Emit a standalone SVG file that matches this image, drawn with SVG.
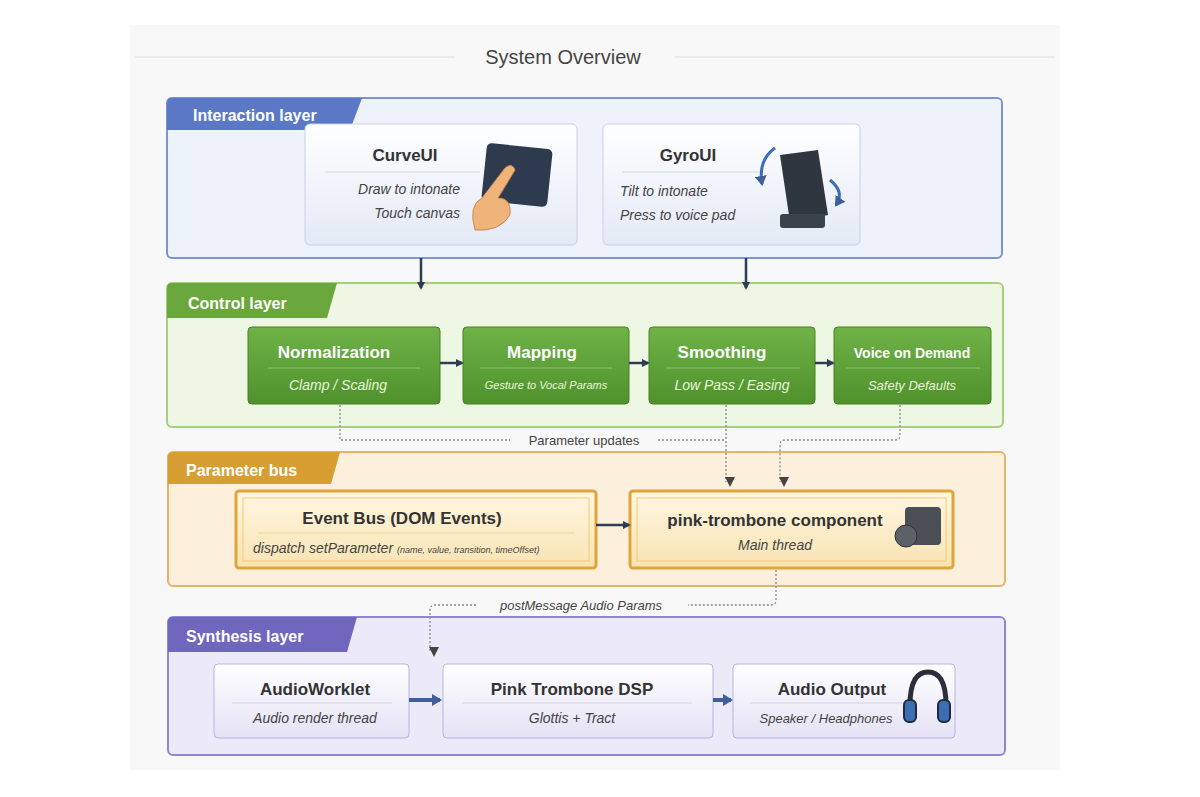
<svg xmlns="http://www.w3.org/2000/svg" width="1200" height="797" viewBox="0 0 1200 797">
<defs>
<style>
.t{font-family:"Liberation Sans",Arial,sans-serif}
.h{font-size:17px;font-weight:bold;fill:#333}
.s{font-size:14px;font-style:italic;fill:#444}
.tab{font-size:16px;font-weight:bold;fill:#fff}
.wh{fill:#fff}
.dash{fill:none;stroke:#888;stroke-width:1.3;stroke-dasharray:2 2}
.arr{stroke:#2f3c55;stroke-width:2.5;fill:none}
</style>
<marker id="a" markerWidth="8" markerHeight="8" refX="6" refY="4" orient="auto" markerUnits="userSpaceOnUse"><path d="M0,0 L8,4 L0,8z" fill="#2f3c55"/></marker>
<marker id="ab" markerWidth="10" markerHeight="12" refX="8" refY="6" orient="auto" markerUnits="userSpaceOnUse"><path d="M0,0 L10,6 L0,12z" fill="#3f5f9a"/></marker>
<marker id="ad" markerWidth="10" markerHeight="10" refX="5" refY="9" orient="auto" markerUnits="userSpaceOnUse"><path d="M0,0 L10,0 L5,10z" transform="rotate(-90 5 5)" fill="#444"/></marker>
<linearGradient id="gg" x1="0" y1="0" x2="0" y2="1"><stop offset="0" stop-color="#6fb247"/><stop offset="1" stop-color="#4f922c"/></linearGradient>
<linearGradient id="gb" x1="0" y1="0" x2="0" y2="1"><stop offset="0" stop-color="#ffffff"/><stop offset="1" stop-color="#e3e9f6"/></linearGradient>
<linearGradient id="gp" x1="0" y1="0" x2="0" y2="1"><stop offset="0" stop-color="#ffffff"/><stop offset="1" stop-color="#e4e2f5"/></linearGradient>
<linearGradient id="go" x1="0" y1="0" x2="0" y2="1"><stop offset="0" stop-color="#fff7e2"/><stop offset="1" stop-color="#f8e3b2"/></linearGradient>
</defs>
<rect width="1200" height="797" fill="#fff"/>
<rect x="130" y="25" width="930" height="745" fill="#f8f8f8"/>
<line x1="135" y1="57" x2="455" y2="57" stroke="#ddd"/>
<line x1="675" y1="57" x2="1055" y2="57" stroke="#ddd"/>
<text class="t" x="563" y="64" text-anchor="middle" font-size="20" fill="#444">System Overview</text>

<g id="interaction-layer">
<rect x="167" y="98" width="835" height="160" rx="5" fill="#eef2fb" stroke="#7d93d2" stroke-width="2"/>
<path d="M167,103 Q167,98 172,98 L362,98 L350,130 L167,130z" fill="#5b78c6"/>
<text class="t tab" x="193" y="121" font-size="15">Interaction layer</text>
</g>
<g id="curveui">
<rect x="305" y="124" width="272" height="121" rx="5" fill="url(#gb)" stroke="#c8d0e4"/>
<text class="t h" x="405" y="161" text-anchor="middle" font-size="19">CurveUI</text>
<line x1="325" y1="172" x2="480" y2="172" stroke="#d0d6e4"/>
<text class="t s" x="460" y="194" text-anchor="end">Draw to intonate</text>
<text class="t s" x="460" y="218" text-anchor="end">Touch canvas</text>
<rect x="484" y="146" width="66" height="58" rx="5" fill="#2e3a4e" transform="rotate(6 517 175)"/>
<path d="M475,230 Q468,205 482,198 L505,168 Q512,162 515,170 L498,198 Q512,198 510,215 Q500,232 475,230z" fill="#f0b37a" stroke="#c98a52"/>
</g>
<g id="gyroui">
<rect x="603" y="124" width="257" height="121" rx="5" fill="url(#gb)" stroke="#c8d0e4"/>
<text class="t h" x="688" y="161" text-anchor="middle" font-size="19">GyroUI</text>
<line x1="622" y1="172" x2="760" y2="172" stroke="#d0d6e4"/>
<text class="t s" x="620" y="196">Tilt to intonate</text>
<text class="t s" x="620" y="220">Press to voice pad</text>
<path d="M780,155 L818,150 L828,215 L790,222z" fill="#2e3640"/>
<rect x="780" y="214" width="45" height="14" rx="3" fill="#3a424c"/>
<path d="M775,148 Q758,160 762,184" fill="none" stroke="#3b6fb8" stroke-width="3" marker-end="url(#ab)"/>
<path d="M830,180 Q845,192 836,205" fill="none" stroke="#3b6fb8" stroke-width="3" marker-end="url(#ab)"/>
</g>

<g id="control-layer">
<rect x="167" y="283" width="836" height="144" rx="5" fill="#eef7e4" stroke="#a6d07e" stroke-width="2"/>
<path d="M167,288 Q167,283 172,283 L337,283 L327,318 L167,318z" fill="#6aa83d"/>
<text class="t tab" x="188" y="309">Control layer</text>
</g>
<g id="normalization">
<rect x="248" y="327" width="192" height="77" rx="4" fill="url(#gg)" stroke="#46821f"/>
<text class="t h wh" x="334" y="358" text-anchor="middle" style="fill:#fff">Normalization</text>
<line x1="268" y1="368" x2="420" y2="368" stroke="#8bc26a"/>
<text class="t s" x="338" y="390" text-anchor="middle" style="fill:#e8f5dc">Clamp / Scaling</text>
</g>
<g id="mapping">
<rect x="463" y="327" width="166" height="77" rx="4" fill="url(#gg)" stroke="#46821f"/>
<text class="t h" x="542" y="358" text-anchor="middle" style="fill:#fff">Mapping</text>
<line x1="480" y1="368" x2="612" y2="368" stroke="#8bc26a"/>
<text class="t s" x="546" y="389" text-anchor="middle" font-size="11" style="fill:#e8f5dc;font-size:11px">Gesture to Vocal Params</text>
</g>
<g id="smoothing">
<rect x="649" y="327" width="166" height="77" rx="4" fill="url(#gg)" stroke="#46821f"/>
<text class="t h" x="722" y="358" text-anchor="middle" style="fill:#fff">Smoothing</text>
<line x1="666" y1="368" x2="800" y2="368" stroke="#8bc26a"/>
<text class="t s" x="732" y="390" text-anchor="middle" style="fill:#e8f5dc">Low Pass / Easing</text>
</g>
<g id="voice-on-demand">
<rect x="834" y="327" width="157" height="77" rx="4" fill="url(#gg)" stroke="#46821f"/>
<text class="t h" x="912" y="358" text-anchor="middle" style="fill:#fff;font-size:14px">Voice on Demand</text>
<line x1="846" y1="368" x2="980" y2="368" stroke="#8bc26a"/>
<text class="t s" x="912" y="390" text-anchor="middle" style="fill:#e8f5dc;font-size:13px">Safety Defaults</text>
</g>

<g id="parameter-bus">
<rect x="168" y="452" width="837" height="134" rx="5" fill="#fcf0dd" stroke="#e5b46a" stroke-width="2"/>
<path d="M168,457 Q168,452 173,452 L340,452 L331,484 L168,484z" fill="#d89e32"/>
<text class="t tab" x="186" y="476">Parameter bus</text>
</g>
<g id="event-bus">
<rect x="236" y="491" width="360" height="77" rx="3" fill="url(#go)" stroke="#e0a53a" stroke-width="3"/>
<rect x="243" y="498" width="346" height="63" fill="none" stroke="#f3c874"/>
<text class="t h" x="402" y="524" text-anchor="middle">Event Bus (DOM Events)</text>
<line x1="258" y1="533" x2="575" y2="533" stroke="#eed3a0"/>
<text class="t s" x="253" y="553">dispatch setParameter <tspan font-size="9">(name, value, transition, timeOffset)</tspan></text>
</g>
<g id="pink-trombone-component">
<rect x="630" y="491" width="323" height="77" rx="3" fill="url(#go)" stroke="#e0a53a" stroke-width="3"/>
<rect x="637" y="498" width="309" height="63" fill="none" stroke="#f3c874"/>
<text class="t h" x="775" y="526" text-anchor="middle">pink-trombone component</text>
<text class="t s" x="775" y="550" text-anchor="middle">Main thread</text>
<rect x="905" y="507" width="36" height="38" rx="4" fill="#4a4e55"/>
<circle cx="906" cy="536" r="11" fill="#5c6068" stroke="#2e3238"/>
</g>

<g id="synthesis-layer">
<rect x="168" y="617" width="837" height="138" rx="5" fill="#eceaf8" stroke="#8f88d0" stroke-width="2"/>
<path d="M168,622 Q168,617 173,617 L357,617 L347,652 L168,652z" fill="#6f66bd"/>
<text class="t tab" x="186" y="642">Synthesis layer</text>
</g>
<g id="audioworklet">
<rect x="214" y="664" width="195" height="74" rx="4" fill="url(#gp)" stroke="#b9b4dc"/>
<text class="t h" x="315" y="695" text-anchor="middle">AudioWorklet</text>
<line x1="232" y1="703" x2="392" y2="703" stroke="#d4d1ea"/>
<text class="t s" x="315" y="723" text-anchor="middle">Audio render thread</text>
</g>
<g id="pink-trombone-dsp">
<rect x="443" y="664" width="270" height="74" rx="4" fill="url(#gp)" stroke="#b9b4dc"/>
<text class="t h" x="572" y="695" text-anchor="middle">Pink Trombone DSP</text>
<line x1="462" y1="703" x2="692" y2="703" stroke="#d4d1ea"/>
<text class="t s" x="572" y="723" text-anchor="middle">Glottis + Tract</text>
</g>
<g id="audio-output">
<rect x="733" y="664" width="222" height="74" rx="4" fill="url(#gp)" stroke="#b9b4dc"/>
<text class="t h" x="832" y="695" text-anchor="middle">Audio Output</text>
<line x1="750" y1="703" x2="905" y2="703" stroke="#d4d1ea"/>
<text class="t s" x="826" y="723" text-anchor="middle" style="font-size:13px">Speaker / Headphones</text>
<path d="M910,705 Q910,672 928,672 Q946,672 946,705" fill="none" stroke="#2a2f3a" stroke-width="5"/>
<rect x="904" y="700" width="12" height="22" rx="5" fill="#3a6fb5" stroke="#1f2a3a" stroke-width="2"/>
<rect x="938" y="700" width="12" height="22" rx="5" fill="#3a6fb5" stroke="#1f2a3a" stroke-width="2"/>
</g>

<g id="connectors">
<line class="arr" x1="421" y1="258" x2="421" y2="288" marker-end="url(#a)"/>
<line class="arr" x1="746" y1="258" x2="746" y2="288" marker-end="url(#a)"/>
<line class="arr" x1="440" y1="363" x2="462" y2="363" marker-end="url(#a)"/>
<line class="arr" x1="629" y1="363" x2="648" y2="363" marker-end="url(#a)"/>
<line class="arr" x1="815" y1="363" x2="833" y2="363" marker-end="url(#a)"/>
<line class="arr" x1="596" y1="525" x2="629" y2="525" marker-end="url(#a)"/>
<path class="dash" d="M340,405 L340,440 L510,440"/>
<path class="dash" d="M658,440 L726,440"/>
<path class="dash" d="M726,405 L726,482" marker-end="url(#ad)"/>
<path class="dash" d="M900,405 L900,435 Q900,440 895,440 L785,440 Q780,440 780,445 L780,482" marker-end="url(#ad)"/>
<text class="t" x="584" y="445" text-anchor="middle" font-size="13" fill="#444">Parameter updates</text>
<path class="dash" d="M776,570 L776,600 Q776,605 771,605 L688,605"/>
<path class="dash" d="M476,605 L435,605 Q430,605 430,610 L430,652" marker-end="url(#ad)"/>
<text class="t" x="581" y="610" text-anchor="middle" font-size="13" font-style="italic" fill="#444">postMessage Audio Params</text>
<line x1="409" y1="700" x2="440" y2="700" stroke="#3f5f9a" stroke-width="4" marker-end="url(#ab)"/>
<line x1="713" y1="700" x2="731" y2="700" stroke="#3f5f9a" stroke-width="4" marker-end="url(#ab)"/>
</g>
</svg>
